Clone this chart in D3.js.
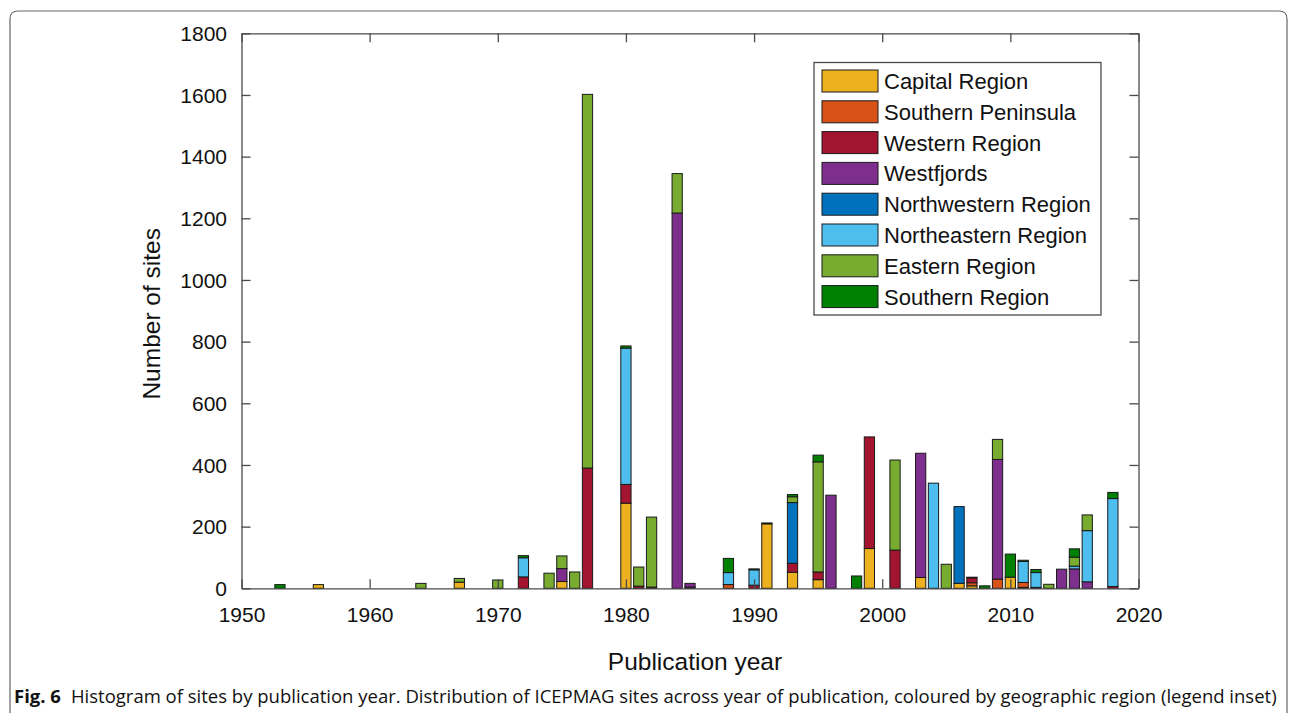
<!DOCTYPE html>
<html>
<head>
<meta charset="utf-8">
<script src="https://cdn.jsdelivr.net/npm/d3@7"></script>
<style>
  body { margin: 0; background: #fff; }
  text { font-family: "Liberation Sans", Arial, sans-serif; fill: #111; }
  text.caption { font-family: "Open Sans", "Noto Sans", sans-serif; }
</style>
</head>
<body>
<svg id="fig" width="1293" height="713"></svg>
<script>
/*********************** Data ***********************/
const years = [1953, 1956, 1964, 1967, 1970, 1972, 1974, 1975, 1976, 1977,
  1980, 1981, 1982, 1984, 1985, 1988, 1990, 1991, 1993, 1995,
  1996, 1998, 1999, 2001, 2003, 2004, 2005, 2006, 2007, 2008,
  2009, 2010, 2011, 2012, 2013, 2014, 2015, 2016, 2018];

const regions = ["Capital Region", "Southern Peninsula", "Western Region", "Westfjords",
  "Northwestern Region", "Northeastern Region", "Eastern Region", "Southern Region"];
const regionColors = ["#EDB120", "#D95319", "#A2142F", "#7E2F8E",
  "#0072BD", "#4DBEEE", "#77AC30", "#008000"];

// one array per region, same order as years
const capital =      [0, 12, 0, 20, 0, 0, 0, 22, 0, 0,   276, 0, 0, 0, 0, 0, 0, 209, 52, 28,   0, 0, 129, 0, 35, 0, 0, 16, 8, 0,   0, 36, 3, 0, 0, 0, 0, 0, 0];
const southernPen =  [0, 0, 0, 0, 0, 0, 0, 0, 0, 0,     0, 0, 0, 0, 0, 12, 0, 0, 0, 0,       0, 0, 0, 0, 0, 0, 0, 0, 10, 0,     30, 0, 16, 3, 0, 0, 0, 0, 0];
const western =      [0, 0, 0, 0, 0, 37, 0, 0, 0, 390,  61, 7, 4, 0, 4, 0, 10, 0, 29, 25,    0, 0, 362, 124, 0, 0, 0, 0, 16, 0, 0, 0, 0, 0, 0, 0, 0, 0, 6];
const westfjords =   [0, 0, 0, 0, 0, 0, 0, 42, 0, 0,    0, 0, 0, 1217, 12, 0, 0, 0, 0, 0,    302, 0, 0, 0, 403, 0, 0, 0, 0, 0,  388, 0, 0, 0, 0, 62, 63, 21, 0];
const northwestern = [0, 0, 0, 0, 0, 0, 0, 0, 0, 0,     0, 0, 0, 0, 0, 0, 0, 0, 197, 0,      0, 0, 0, 0, 0, 0, 0, 249, 0, 0,    0, 0, 0, 0, 0, 0, 0, 0, 0];
const northeastern = [0, 0, 0, 0, 0, 62, 0, 0, 0, 0,    442, 0, 0, 0, 0, 39, 50, 0, 0, 0,    0, 0, 0, 0, 0, 341, 0, 0, 0, 0,    0, 0, 68, 48, 0, 0, 9, 166, 285];
const eastern =      [0, 0, 16, 12, 27, 0, 49, 41, 53, 1212, 0, 62, 227, 128, 0, 0, 0, 0, 19, 357, 0, 0, 0, 292, 0, 0, 78, 0, 0, 0, 65, 0, 0, 0, 13, 0, 29, 51, 0];
const southern =     [12, 0, 0, 0, 0, 7, 0, 0, 0, 0,   7, 0, 0, 0, 0, 46, 3, 3, 7, 22,      0, 40, 0, 0, 0, 0, 0, 0, 2, 8,     0, 75, 4, 10, 0, 0, 27, 0, 20];

const seriesValues = [capital, southernPen, western, westfjords, northwestern, northeastern, eastern, southern];

const xTicks = [1950, 1960, 1970, 1980, 1990, 2000, 2010, 2020];
const yTicks = [0, 200, 400, 600, 800, 1000, 1200, 1400, 1600, 1800];

/*********************** Layout ***********************/
const svg = d3.select("svg#fig");
const plotLeft = 241.5, plotRight = 1138.5, plotTop = 33.3, plotBottom = 588.3;

const x = d3.scaleLinear().domain([1950, 2020]).range([plotLeft, plotRight]);
const y = d3.scaleLinear().domain([0, 1800]).range([plotBottom, plotTop]);
const barW = (x(1951) - x(1950)) * 0.8;

// figure frame (rounded top corners, open bottom)
svg.append("path")
  .attr("d", `M10,713 L10,19 Q10,11 18,11 L1279,11 Q1287,11 1287,19 L1287,713`)
  .attr("fill", "none").attr("stroke", "#666").attr("stroke-width", 1.2);

/*********************** Bars ***********************/
const table = years.map((yr, i) => {
  const row = { year: yr };
  regions.forEach((r, k) => { row[r] = seriesValues[k][i]; });
  return row;
});
const stacked = d3.stack().keys(regions)(table);

const bars = svg.append("g").attr("class", "bars");
bars.selectAll("g")
  .data(stacked)
  .join("g")
  .attr("fill", (_, k) => regionColors[k])
  .selectAll("rect")
  .data(d => d.filter(s => s[1] - s[0] > 0))
  .join("rect")
  .attr("x", d => x(d.data.year) - barW / 2)
  .attr("width", barW)
  .attr("y", d => y(d[1]))
  .attr("height", d => y(d[0]) - y(d[1]))
  .attr("stroke", "#1a1a1a")
  .attr("stroke-width", 1);

/*********************** Axes (MATLAB style box, ticks inside) ***********************/
const axisColor = "#4a4a4a";
const xAxis = d3.axisBottom(x).tickValues(xTicks).tickFormat(d3.format("d"))
  .tickSizeInner(-9).tickSizeOuter(0).tickPadding(19);
const yAxis = d3.axisLeft(y).tickValues(yTicks).tickFormat(d3.format("d"))
  .tickSizeInner(-9).tickSizeOuter(0).tickPadding(14.5);

const gx = svg.append("g").attr("transform", `translate(0,${plotBottom})`).call(xAxis);
const gy = svg.append("g").attr("transform", `translate(${plotLeft},0)`).call(yAxis);
svg.append("g").attr("transform", `translate(0,${plotTop})`)
  .call(d3.axisTop(x).tickValues(xTicks).tickFormat("").tickSizeInner(-9).tickSizeOuter(0));
svg.append("g").attr("transform", `translate(${plotRight},0)`)
  .call(d3.axisRight(y).tickValues(yTicks).tickFormat("").tickSizeInner(-9).tickSizeOuter(0));

svg.selectAll(".domain").attr("stroke", axisColor).attr("stroke-width", 1.3);
svg.selectAll(".tick line").attr("stroke", axisColor).attr("stroke-width", 1.3);
svg.selectAll(".tick text").style("font-size", "21px").attr("fill", "#111")
  .style("font-family", "'Liberation Sans', Arial, sans-serif");
gy.selectAll(".tick text").attr("dy", "0.34em");

// axis titles
svg.append("text").text("Publication year")
  .attr("x", (plotLeft + plotRight) / 2 + 5).attr("y", 670)
  .attr("text-anchor", "middle").style("font-size", "24.5px");
svg.append("text").text("Number of sites")
  .attr("transform", `translate(160,${(plotTop + plotBottom) / 2 + 3}) rotate(-90)`)
  .attr("text-anchor", "middle").style("font-size", "24.5px");

/*********************** Legend ***********************/
const legend = svg.append("g").attr("class", "legend");
legend.append("rect")
  .attr("x", 814).attr("y", 62.5).attr("width", 287).attr("height", 252.5)
  .attr("fill", "#fff").attr("stroke", axisColor).attr("stroke-width", 1.3);
const item = legend.selectAll("g.item")
  .data(regions)
  .join("g")
  .attr("class", "item")
  .attr("transform", (_, i) => `translate(822,${70 + i * 30.8})`);
item.append("rect")
  .attr("width", 56).attr("height", 22)
  .attr("fill", (_, i) => regionColors[i])
  .attr("stroke", "#1a1a1a").attr("stroke-width", 1);
item.append("text")
  .attr("x", 62).attr("y", 19)
  .style("font-size", "22px")
  .text(d => d);

/*********************** Caption ***********************/
const cap = svg.append("text").attr("class", "caption")
  .attr("x", 14).attr("y", 703).style("font-size", "17px");
cap.append("tspan").style("font-weight", "bold").text("Fig. 6");
cap.append("tspan").attr("dx", 10)
  .text("Histogram of sites by publication year. Distribution of ICEPMAG sites across year of publication, coloured by geographic region (legend inset)");
// size the caption so it spans the figure width like the original
const capW = cap.node().getBBox().width;
cap.style("font-size", `${17 * 1264 / capW}px`);
</script>
</body>
</html>
